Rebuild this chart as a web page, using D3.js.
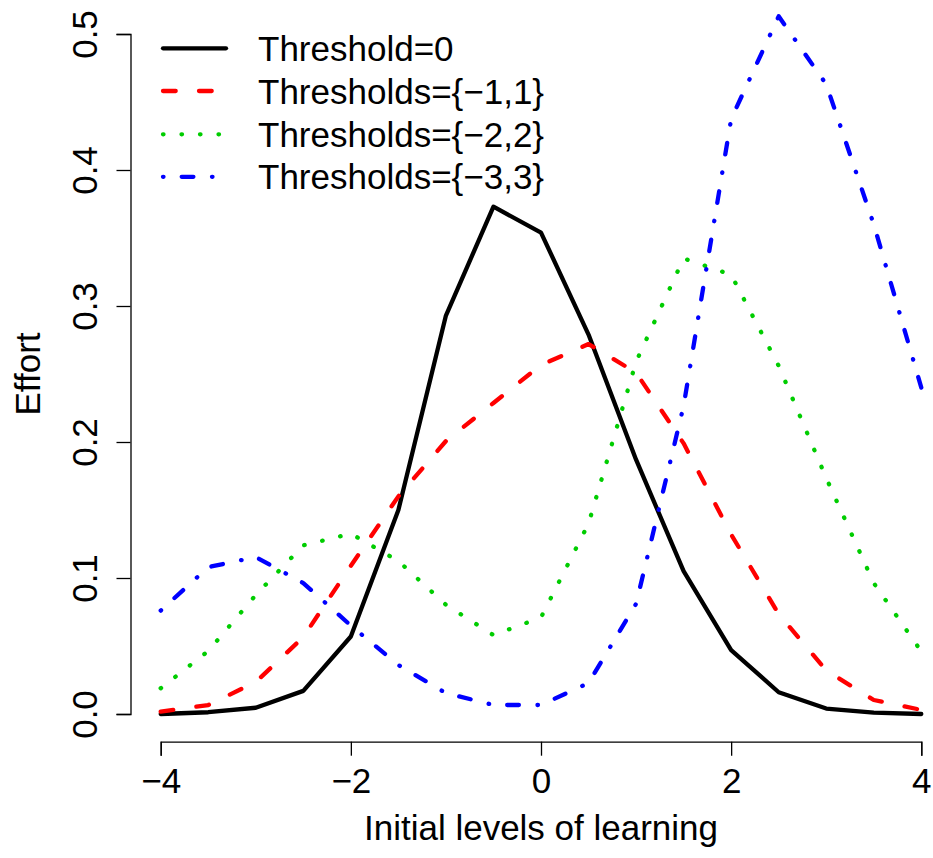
<!DOCTYPE html>
<html>
<head>
<meta charset="utf-8">
<script src="https://cdn.jsdelivr.net/npm/d3@7"></script>
<style>
  html, body { margin: 0; padding: 0; background: #fff; }
  svg text { font-family: "Liberation Sans", Arial, Helvetica, sans-serif; fill: #000; }
</style>
</head>
<body>
<svg id="chart" width="933" height="858"></svg>
<script>
// Initial levels of learning (x grid)
const levels = [-4, -3.5, -3, -2.5, -2, -1.5, -1, -0.5, 0, 0.5, 1, 1.5, 2, 2.5, 3, 3.5, 4];

// Effort for each threshold configuration
const effortT0  = [0.000, 0.0013, 0.0046, 0.017, 0.057, 0.150, 0.293, 0.373, 0.354, 0.279, 0.187, 0.105, 0.047, 0.016, 0.004, 0.001, 0.000];
const effortT1  = [0.0017, 0.0066, 0.0235, 0.0566, 0.109, 0.160, 0.2007, 0.2287, 0.2566, 0.272, 0.251, 0.199, 0.132, 0.0735, 0.032, 0.0103, 0.003];
const effortT2  = [0.0189, 0.0463, 0.0875, 0.124, 0.1326, 0.1125, 0.0803, 0.058, 0.071, 0.140, 0.259, 0.335, 0.323, 0.256, 0.1735, 0.0963, 0.046];
const effortT3  = [0.076, 0.108, 0.1154, 0.0963, 0.065, 0.036, 0.0154, 0.0066, 0.0066, 0.0228, 0.081, 0.2265, 0.4375, 0.513, 0.463, 0.360, 0.240];

const seriesNames = ["Threshold=0", "Thresholds={\u22121,1}", "Thresholds={\u22122,2}", "Thresholds={\u22123,3}"];
const seriesValues = [effortT0, effortT1, effortT2, effortT3];

const xTicks = [-4, -2, 0, 2, 4];
const yTicks = [0, 0.1, 0.2, 0.3, 0.4, 0.5];

// line styles: solid, dashed, dotted, dot-dash
const colors = ["#000000", "#ff0000", "#00cd00", "#0000ff"];
const dashes = [null, "12.7,23.3", "0.5,18", "0.5,18.2,11.7,18.6"];
const LW = 4.3;
const FONT = 35;

const svg = d3.select("#chart");

const x = d3.scaleLinear().domain([-4, 4]).range([160.7, 921.3]);
const y = d3.scaleLinear().domain([0, 0.5]).range([714, 34]);

const axisX = 741.7;   // baseline of the x axis
const axisY = 130.5;   // position of the y axis

// x axis
const gx = svg.append("g")
  .attr("transform", `translate(0,${axisX})`)
  .call(d3.axisBottom(x).tickValues(xTicks).tickSizeOuter(0).tickSize(14)
        .tickFormat(d => (d < 0 ? "\u2212" : "") + Math.abs(d)));
gx.select(".domain").attr("stroke", "#000").attr("stroke-width", 1.3);
gx.selectAll(".tick line").attr("stroke", "#000").attr("stroke-width", 1.3);
gx.selectAll(".tick text")
  .attr("y", 51.3).attr("dy", 0)
  .style("font-size", FONT + "px")
  .style("font-family", "'Liberation Sans', Arial, sans-serif");

// y axis
const gy = svg.append("g")
  .attr("transform", `translate(${axisY},0)`)
  .call(d3.axisLeft(y).tickValues(yTicks).tickSizeOuter(0).tickSize(14)
        .tickFormat(d3.format(".1f")));
gy.select(".domain").attr("stroke", "#000").attr("stroke-width", 1.3);
gy.selectAll(".tick line").attr("stroke", "#000").attr("stroke-width", 1.3);
gy.selectAll(".tick text")
  .attr("x", 0).attr("dy", 0)
  .attr("text-anchor", "middle")
  .attr("transform", "translate(-33.5,0) rotate(-90)")
  .style("font-size", FONT + "px")
  .style("font-family", "'Liberation Sans', Arial, sans-serif");

// axis titles
svg.append("text")
  .attr("x", (x.range()[0] + x.range()[1]) / 2)
  .attr("y", 840)
  .attr("text-anchor", "middle")
  .style("font-size", FONT + "px")
  .text("Initial levels of learning");

svg.append("text")
  .attr("transform", `translate(39.5,${(y.range()[0] + y.range()[1]) / 2}) rotate(-90)`)
  .attr("text-anchor", "middle")
  .style("font-size", FONT + "px")
  .text("Effort");

// curves
const line = d3.line()
  .x((d, i) => x(levels[i]))
  .y(d => y(d));

seriesValues.forEach((vals, k) => {
  svg.append("path")
    .datum(vals)
    .attr("d", line)
    .attr("fill", "none")
    .attr("stroke", colors[k])
    .attr("stroke-width", LW)
    .attr("stroke-linecap", "round")
    .attr("stroke-linejoin", "round")
    .attr("stroke-dasharray", dashes[k]);
});

// legend
const legendRows = [48.3, 91, 134.3, 176.8];
const lg = svg.append("g");
seriesNames.forEach((name, k) => {
  lg.append("line")
    .attr("x1", 163).attr("x2", 226)
    .attr("y1", legendRows[k]).attr("y2", legendRows[k])
    .attr("stroke", colors[k])
    .attr("stroke-width", LW)
    .attr("stroke-linecap", "round")
    .attr("stroke-dasharray", dashes[k]);
  lg.append("text")
    .attr("x", 258)
    .attr("y", legendRows[k] + 12.6)
    .style("font-size", FONT + "px")
    .text(name);
});
</script>
</body>
</html>
